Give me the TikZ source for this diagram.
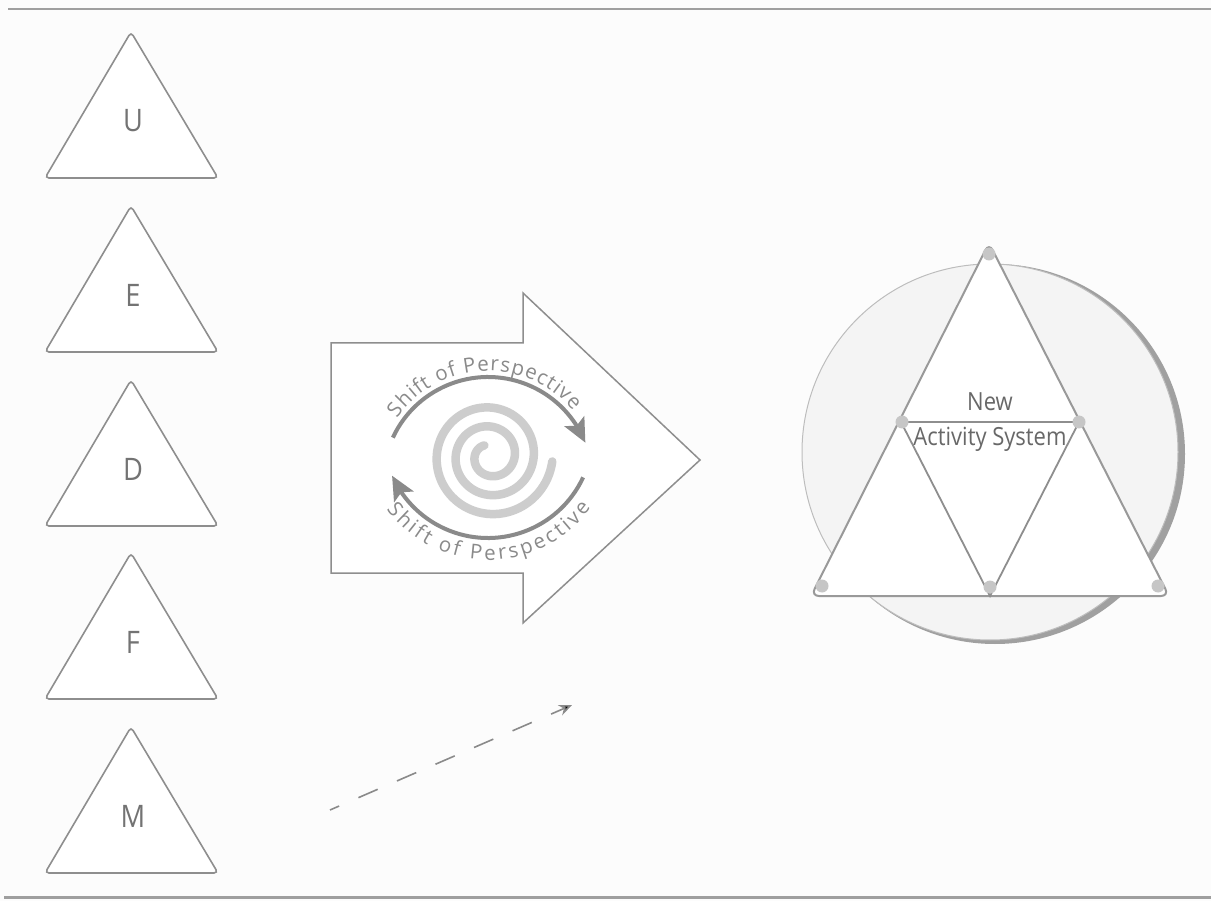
\documentclass[tikz,border=0pt]{standalone}
\usepackage{fontspec}
\setmainfont[FakeStretch=0.88]{Open Sans}
\newfontfamily\arcfont{Open Sans}
\usetikzlibrary{arrows.meta,bending,decorations.text}
\definecolor{bg}{HTML}{FCFCFC}
\definecolor{lgray}{HTML}{8E8E8E}
\definecolor{tgray}{HTML}{737373}
\definecolor{agray}{HTML}{8A8A8A}
\definecolor{sgray}{HTML}{CDCDCD}
\definecolor{dgray}{HTML}{C6C6C6}
\definecolor{cfill}{HTML}{F4F4F4}
\definecolor{crim}{HTML}{A0A0A0}
\tikzset{
  rule/.style={draw=lgray!85, line width=2pt},
  tri/.style={draw=lgray, line width=1.6pt, fill=white, rounded corners=4pt},
  trilabel/.style={text=tgray, font=\fontsize{31}{31}\selectfont, inner sep=0pt},
  blockarrow/.style={draw=lgray, line width=1.5pt, fill=white},
  swirl/.style={draw=sgray, line width=8.5pt, line cap=round},
  turnarrow/.style={draw=agray, line width=4pt, -{Stealth[length=24pt,width=22pt,inset=5pt,flex]}},
  bigtri/.style={draw=lgray!90, line width=2pt, fill=white, rounded corners=8pt},
  inner/.style={draw=lgray, line width=1.8pt},
  vdot/.style={circle, fill=dgray, minimum size=13pt, inner sep=0pt},
  systext/.style={text=tgray!90!black, font=\fontsize{25}{25}\selectfont, inner sep=0pt},
  dasharrow/.style={draw=agray, line width=1.6pt, dash pattern=on 21pt off 21pt, dash phase=11pt, -{Stealth[length=13pt,width=11pt]}}
}
\begin{document}
\begin{tikzpicture}[x=1pt,y=1pt]
\fill[bg] (0,0) rectangle (1211,-901);
\useasboundingbox (0,0) rectangle (1211,-901);

% rules
\coordinate (t1) at (8,-9); \coordinate (t2) at (1211,-9);
\coordinate (b1) at (4,-897); \coordinate (b2) at (1211,-897);
\draw[rule] (t1) -- (t2);
\draw[rule, line width=3pt] (b1) -- (b2);

% left triangles
\foreach \l/\a in {U/32,E/206,D/380,F/553,M/727}{
  \draw[tri] (131,-\a) -- (218,{-\a-146}) -- (45,{-\a-146}) -- cycle;
  \node[trilabel] (lab\l) at (133,{-\a-89}) {\l};
}

% block arrow
\draw[blockarrow] (331,-343) -- (523,-343) -- (523,-293) -- (700,-460) -- (523,-623) -- (523,-573) -- (331,-573) -- cycle;

% spiral
\draw[swirl] plot[domain=118:1075, samples=240, smooth, variable=\t]
  ({490+(12+(\t-118)/360*19)*cos(\t)}, {-456+(12+(\t-118)/360*19)*sin(\t)});

% turning arrows
\coordinate (cu) at (488,-482);
\coordinate (cl) at (488,-433);
\draw[turnarrow] ([shift={(155:105)}]cu) arc[start angle=155, end angle=22, radius=105];
\draw[turnarrow] ([shift={(-25:105)}]cl) arc[start angle=-25, end angle=-156, radius=105];

% texts along arcs
\path[decorate, decoration={text along path, text align=fit to path, text color=agray,
  text={|\arcfont\fontsize{20.5}{20.5}\selectfont|Shift of Perspective}}]
  ([shift={(145:111)}]cu) arc[start angle=145, end angle=40, radius=111];
\path[decorate, decoration={text along path, text align=fit to path, text color=agray,
  text={|\arcfont\fontsize{20.5}{20.5}\selectfont|Shift of Perspective}}]
  ([shift={(217:127)}]cl) arc[start angle=217, end angle=324, radius=127];

% circle
\coordinate (cc) at (990,-452);
\fill[crim] ([shift={(5,-2)}]cc) circle[radius=190];
\draw[fill=cfill, draw=crim!70, line width=1pt] (cc) circle[radius=188];

% big triangle
\coordinate (A) at (989,-243);
\coordinate (B) at (811,-596);
\coordinate (C) at (1169,-596);
\draw[bigtri] (A) -- (C) -- (B) -- cycle;
\coordinate (mL) at (901,-422);
\coordinate (mR) at (1079,-422);
\coordinate (mB) at (990,-596);
\draw[inner] (mL) -- (mR) -- (mB) -- cycle;
\node[vdot] (dA) at (989,-254) {};
\node[vdot] (dB) at (822,-586) {};
\node[vdot] (dC) at (1158,-586) {};
\node[vdot] (dM) at (990,-587) {};
\node[vdot] (dL) at (902,-422) {};
\node[vdot] (dR) at (1079,-422) {};
\node[systext] (new) at (990,-402) {New};
\node[systext] (act) at (990,-439) {Activity System};

% dashed arrow
\coordinate (ds) at (330,-810);
\coordinate (de) at (572,-705);
\draw[dasharrow] (ds) -- (de);
\end{tikzpicture}
\end{document}
